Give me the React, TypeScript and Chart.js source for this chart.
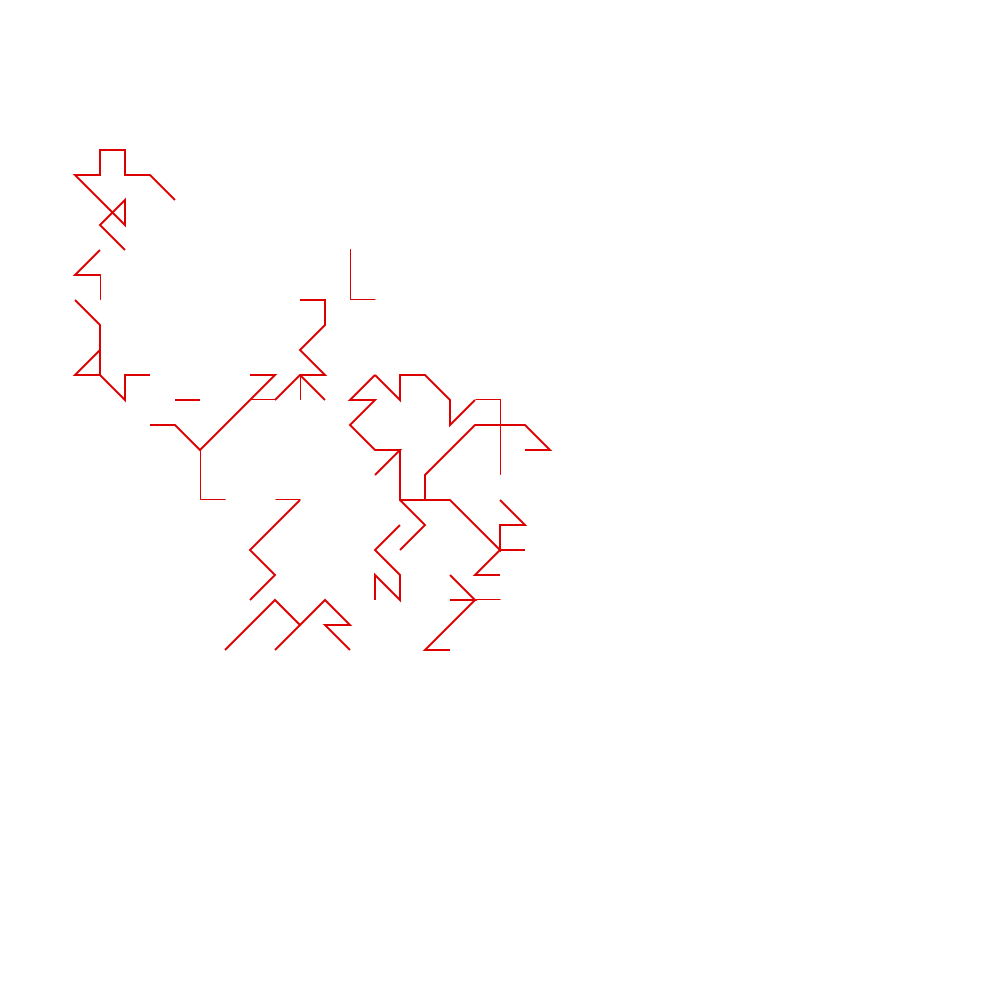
import { Chart, registerables } from 'chart.js';
import { useEffect, useRef } from 'react';

Chart.register(...registerables);

type Pt = [number, number];

// grid units (1 unit = 25px), y grows downward
const thickPaths: Pt[][] = [
    [[7, 8], [6, 7], [5, 7], [5, 6], [4, 6], [4, 7], [3, 7], [5, 9], [5, 8], [4, 9], [5, 10]],
    [[4, 10], [3, 11], [4, 11]],
    [[3, 12], [4, 13], [4, 14], [3, 15], [4, 15], [5, 16], [5, 15], [6, 15]],
    [[4, 14], [4, 15]],
    [[7, 16], [8, 16]],
    [[6, 17], [7, 17], [8, 18], [11, 15], [10, 15]],
    [[11, 16], [12, 15], [13, 15], [12, 14], [13, 13], [13, 12], [12, 12]],
    [[12, 15], [13, 16]],
    [[12, 20], [10, 22], [11, 23], [10, 24]],
    [[9, 26], [11, 24], [12, 25], [13, 24], [14, 25], [13, 25], [14, 26]],
    [[11, 26], [12, 25]],
    [[15, 15], [14, 16], [15, 16], [14, 17], [15, 18], [16, 18], [15, 19]],
    [[15, 15], [16, 16], [16, 15], [17, 15], [18, 16], [18, 17], [19, 16]],
    [[16, 18], [16, 20], [18, 20], [20, 22], [20, 21], [21, 21], [20, 20]],
    [[17, 20], [17, 19], [19, 17], [21, 17], [22, 18], [21, 18]],
    [[20, 22], [21, 22]],
    [[20, 22], [19, 23], [20, 23]],
    [[16, 20], [17, 21], [16, 22]],
    [[16, 21], [15, 22], [16, 23], [16, 24], [15, 23], [15, 24]],
    [[18, 23], [19, 24], [18, 24]],
    [[19, 24], [17, 26], [18, 26]],
];

const thinPaths: Pt[][] = [
    [[4, 11], [4, 12]],
    [[10, 16], [11, 16]],
    [[12, 15], [12, 16]],
    [[14, 10], [14, 12], [15, 12]],
    [[8, 18], [8, 20], [9, 20]],
    [[11, 20], [12, 20]],
    [[19, 16], [20, 16], [20, 19]],
    [[19, 24], [20, 24]],
];

const lineColor = 'rgb(220, 0, 0)';
// half a pixel in grid units, so 1px lines land on whole pixels
const halfPx = 0.5 / 25;

function toDataset(path: Pt[], width: number, thin: boolean) {
    return {
        data: path.map(([x, y]) => ({ x, y })),
        showLine: true,
        borderColor: lineColor,
        borderWidth: width,
        pointRadius: 0,
        fill: false,
        xAxisID: thin ? 'x2' : 'x',
        yAxisID: thin ? 'y2' : 'y',
    };
}

function WalkChart() {
    const canvasRef = useRef<HTMLCanvasElement>(null);
    const chartRef = useRef<Chart | null>(null);

    useEffect(() => {
        if (!canvasRef.current) return;
        const ctx = canvasRef.current.getContext('2d');
        if (!ctx) return;

        if (chartRef.current) chartRef.current.destroy();

        chartRef.current = new Chart(ctx, {
            type: 'scatter',
            data: {
                datasets: [
                    ...thickPaths.map(p => toDataset(p, 2, false)),
                    ...thinPaths.map(p => toDataset(p, 1, true)),
                ],
            },
            options: {
                animation: false,
                responsive: true,
                maintainAspectRatio: false,
                layout: { padding: 0 },
                scales: {
                    x: { type: 'linear', min: 0, max: 40, display: false },
                    y: { type: 'linear', min: 0, max: 40, reverse: true, display: false },
                    x2: { type: 'linear', min: -halfPx, max: 40 - halfPx, display: false },
                    y2: { type: 'linear', min: halfPx, max: 40 + halfPx, reverse: true, display: false },
                },
                plugins: {
                    legend: { display: false },
                    tooltip: { enabled: false },
                },
            },
        });

        return () => {
            if (chartRef.current) {
                chartRef.current.destroy();
                chartRef.current = null;
            }
        };
    }, []);

    return (
        <div style={{ position: 'absolute', left: 0, top: 0, width: 1000, height: 1000, background: '#fff' }}>
            <canvas ref={canvasRef} />
        </div>
    );
}

export default function App() {
    return <WalkChart />;
}
